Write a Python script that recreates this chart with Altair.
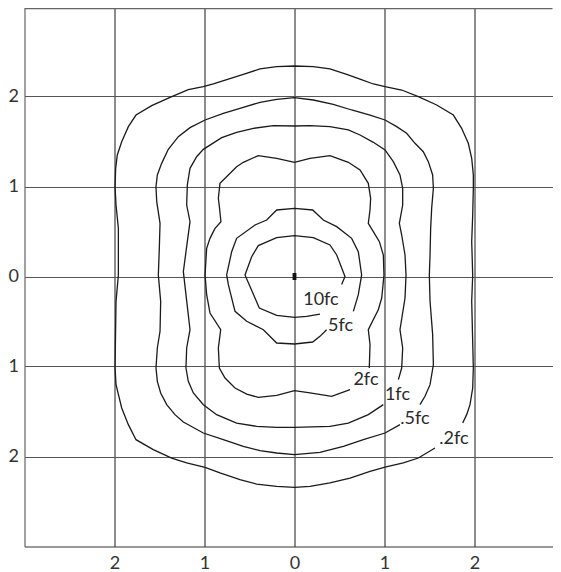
import altair as alt
import pandas as pd

# Isofootcandle contours (x, y in grid units), each polyline runs from the
# end next to its label, up the right side, over the top, down the left side,
# and along the bottom back toward the label.
c_02 = [(1.869,-1.628),(1.913,-1.535),(1.950,-1.424),(1.980,-1.239),(1.987,-1.017),(1.969,-0.276),
        (1.980,0.017),(1.969,0.387),(1.980,0.683),(1.987,0.980),(1.987,1.128),(1.969,1.313),
        (1.931,1.480),(1.857,1.646),(1.765,1.794),(1.580,1.906),(1.376,1.998),(1.191,2.072),
        (1.006,2.109),(0.876,2.139),(0.728,2.194),(0.580,2.247),(0.394,2.306),(0.209,2.331),
        (0.0,2.339),(-0.198,2.331),(-0.383,2.306),(-0.569,2.247),(-0.735,2.194),(-0.902,2.139),
        (-1.013,2.109),(-1.18,2.076),(-1.383,1.991),(-1.587,1.898),(-1.761,1.794),(-1.846,1.665),
        (-1.920,1.498),(-1.969,1.35),(-1.987,1.202),(-1.994,0.998),(-1.983,0.794),(-1.957,0.535),
        (-1.957,0.017),(-1.983,-0.276),(-1.994,-1.017),(-1.983,-1.202),(-1.920,-1.461),
        (-1.846,-1.646),(-1.761,-1.813),(-1.569,-1.924),(-1.365,-2.017),(-1.198,-2.072),
        (-0.994,-2.120),(-0.828,-2.183),(-0.606,-2.257),(-0.420,-2.306),(-0.198,-2.331),
        (0.0,-2.343),(0.172,-2.331),(0.394,-2.294),(0.617,-2.239),(0.839,-2.165),(1.006,-2.117),
        (1.209,-2.072),(1.376,-2.017),(1.561,-1.906)]

c_05 = [(1.394,-1.424),(1.450,-1.331),(1.506,-1.202),(1.543,-0.98),(1.535,-0.646),(1.506,-0.276),
        (1.498,0.017),(1.506,0.239),(1.513,0.535),(1.524,0.757),(1.543,0.980),(1.535,1.128),
        (1.487,1.276),(1.431,1.387),(1.339,1.480),(1.246,1.591),(1.135,1.665),(1.006,1.739),
        (0.839,1.794),(0.635,1.85),(0.431,1.913),(0.209,1.961),(0.0,1.987),(-0.198,1.969),
        (-0.383,1.935),(-0.606,1.869),(-0.791,1.813),(-0.994,1.739),(-1.161,1.654),(-1.291,1.554),
        (-1.402,1.413),(-1.476,1.257),(-1.524,1.128),(-1.539,0.998),(-1.531,0.831),(-1.494,0.591),
        (-1.502,0.313),(-1.513,0.017),(-1.487,-0.276),(-1.494,-0.609),(-1.524,-0.794),
        (-1.539,-1.017),(-1.524,-1.165),(-1.487,-1.294),(-1.420,-1.424),(-1.328,-1.535),
        (-1.235,-1.617),(-1.013,-1.739),(-0.791,-1.813),(-0.569,-1.887),(-0.383,-1.935),
        (-0.198,-1.961),(0.0,-1.98),(0.283,-1.954),(0.543,-1.887),(0.765,-1.813),(1.006,-1.739),
        (1.172,-1.646)]

c_1 = [(1.154,-1.146),(1.191,-1.017),(1.202,-0.794),(1.172,-0.591),(1.228,-0.239),(1.239,0.017),
       (1.228,0.239),(1.191,0.461),(1.165,0.591),(1.202,0.794),(1.202,0.980),(1.172,1.128),
       (1.098,1.276),(1.006,1.406),(0.876,1.491),(0.728,1.572),(0.598,1.628),(0.394,1.665),
       (0.172,1.676),(0.0,1.672),(-0.235,1.676),(-0.457,1.646),(-0.643,1.602),(-0.809,1.543),
       (-1.013,1.413),(-1.087,1.331),(-1.161,1.202),(-1.191,1.017),(-1.198,0.794),(-1.161,0.609),
       (-1.191,0.387),(-1.235,0.054),(-1.206,-0.202),(-1.161,-0.591),(-1.198,-0.794),
       (-1.206,-1.017),(-1.180,-1.165),(-1.124,-1.294),(-1.013,-1.424),(-0.865,-1.535),
       (-0.643,-1.628),(-0.420,-1.665),(-0.198,-1.676),(0.0,-1.676),(0.394,-1.665),
       (0.598,-1.628),(0.820,-1.535),(0.987,-1.424)]

c_2 = [(0.831,-1.017),(0.839,-0.757),(0.820,-0.591),(0.931,-0.369),(0.969,-0.239),(0.994,0.017),
       (0.987,0.239),(0.943,0.387),(0.876,0.498),(0.820,0.591),(0.839,0.739),(0.846,0.869),
       (0.820,1.035),(0.728,1.183),(0.598,1.269),(0.394,1.343),(0.172,1.313),(0.0,1.269),
       (-0.198,1.313),(-0.402,1.343),(-0.569,1.269),(-0.643,1.220),(-0.735,1.128),(-0.828,1.035),
       (-0.846,0.869),(-0.835,0.776),(-0.817,0.609),(-0.883,0.535),(-0.939,0.424),(-0.976,0.313),
       (-0.994,0.017),(-0.976,-0.202),(-0.939,-0.406),(-0.820,-0.591),(-0.846,-0.794),
       (-0.835,-1.017),(-0.772,-1.128),(-0.661,-1.239),(-0.531,-1.306),(-0.402,-1.343),
       (-0.198,-1.320),(0.0,-1.269),(0.172,-1.294),(0.413,-1.331),(0.617,-1.257)]

c_5 = [(0.654,-0.387),(0.709,-0.202),(0.746,0.017),(0.709,0.276),(0.635,0.424),(0.469,0.554),
       (0.320,0.628),(0.202,0.739),(0.0,0.757),(-0.198,0.739),(-0.309,0.628),(-0.439,0.572),
       (-0.643,0.424),(-0.698,0.276),(-0.754,0.017),(-0.735,-0.091),(-0.661,-0.387),
       (-0.531,-0.498),(-0.346,-0.591),(-0.198,-0.739),(0.0,-0.75),(0.202,-0.728),
       (0.283,-0.665),(0.357,-0.591)]

c_10 = [(0.524,-0.09),(0.561,0.0),(0.469,0.239),(0.394,0.35),(0.209,0.431),(0.0,0.454),
        (-0.198,0.431),(-0.402,0.343),(-0.476,0.220),(-0.55,0.017),(-0.439,-0.239),
        (-0.391,-0.35),(-0.198,-0.431),(0.0,-0.454),(0.135,-0.443),(0.283,-0.417)]

contour_names = [".2fc", ".5fc", "1fc", "2fc", "5fc", "10fc"]
contours = [c_02, c_05, c_1, c_2, c_5, c_10]

label_text = ["10fc", "5fc", "2fc", "1fc", ".5fc", ".2fc"]
label_x = [0.294, 0.511, 0.794, 1.144, 1.339, 1.772]
label_y = [-0.261, -0.55, -1.15, -1.317, -1.583, -1.806]

tick_values = [-2, -1, 0, 1, 2]

rows = []
for name, pts in zip(contour_names, contours):
    for i, (x, y) in enumerate(pts):
        rows.append({"contour": name, "i": i, "x": x, "y": y})
lines_df = pd.DataFrame(rows)
labels_df = pd.DataFrame({"text": label_text, "x": label_x, "y": label_y})
center_df = pd.DataFrame({"x": [0.0], "y": [0.0]})

W, H = 528, 538.5
xs = alt.Scale(domain=[-3, -3 + W / 90.0], nice=False, zero=False)
ys = alt.Scale(domain=[-3, -3 + H / 90.0], nice=False, zero=False)

FONT = "Lato"

x_axis = alt.Axis(values=tick_values, labelExpr="abs(datum.value)", grid=True,
                  gridColor="#1a1a1a", gridWidth=1, ticks=False, tickSize=0,
                  domainColor="#333333", domainWidth=1.2, labelFont=FONT, labelFontSize=18,
                  labelColor="#333333", labelPadding=8, title=None)
y_axis = alt.Axis(values=tick_values, labelExpr="abs(datum.value)", grid=True,
                  gridColor="#555555", gridWidth=1.2, ticks=False, tickSize=0,
                  domainColor="#666666", domainWidth=1.2, labelFont=FONT, labelFontSize=18,
                  labelColor="#333333", labelPadding=6, title=None)

base = alt.Chart(lines_df).mark_line(color="#1a1a1a", strokeWidth=1.3).encode(
    x=alt.X("x:Q", scale=xs, axis=x_axis),
    y=alt.Y("y:Q", scale=ys, axis=y_axis),
    detail="contour:N",
    order="i:Q",
)

labels = alt.Chart(labels_df).mark_text(font=FONT, fontSize=18, color="#2a2a2a",
                                        align="center", baseline="middle").encode(
    x=alt.X("x:Q", scale=xs), y=alt.Y("y:Q", scale=ys), text="text:N")

center = alt.Chart(center_df).mark_point(
    shape="M-0.55,-1L0.55,-1L0.55,1L-0.55,1Z", size=49, filled=True, color="#111111", opacity=1
).encode(x=alt.X("x:Q", scale=xs), y=alt.Y("y:Q", scale=ys))

top_rule = alt.Chart(center_df).mark_rule(color="#666666", strokeWidth=1.2).encode(
    x=alt.value(0), x2=alt.value(W), y=alt.value(0.6))

chart = alt.layer(base, labels, center, top_rule).properties(
    width=W, height=H,
    autosize=alt.AutoSizeParams(type="none"),
    padding={"left": 16.5, "top": 0, "right": 0, "bottom": 25},
    background="white",
).configure_view(strokeWidth=0)

chart.save("out.html", embed_options={"renderer": "svg", "actions": False})
